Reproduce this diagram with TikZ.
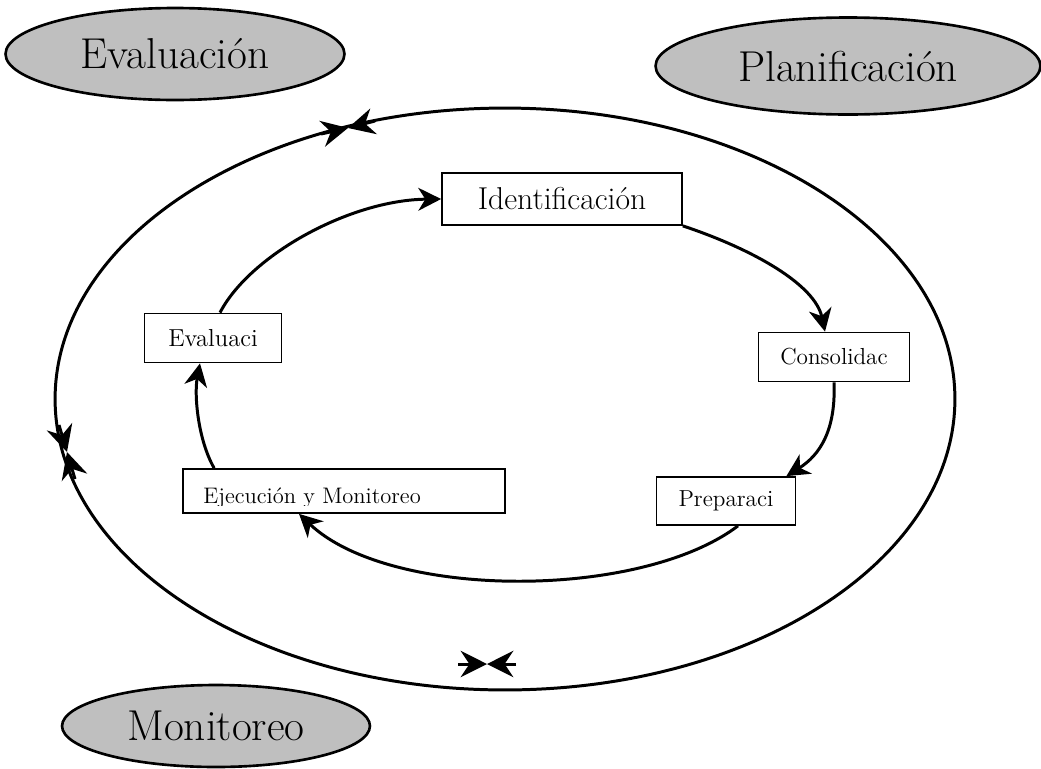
\documentclass[tikz,border=0pt]{standalone}
\usepackage{fontspec}
\usetikzlibrary{shapes.geometric,arrows.meta}

\begin{document}
\begin{tikzpicture}[
        x=0.02cm, y=-0.02cm,
        phase/.style={ellipse,draw,line width=1.5pt,fill=gray!50,font=\fontsize{24.6}{29}\selectfont},
        stage/.style={rectangle,draw,line width=1pt,fill=white,font=\fontsize{13.2}{16}\selectfont,inner sep=2pt},
        flow/.style={-{Stealth[length=13pt,width=13pt,inset=4pt]},line width=1.7pt},
        tick/.style={-{Stealth[length=15pt,width=15pt,inset=5pt]},line width=1.7pt}
    ]
        \useasboundingbox (0,0) rectangle (1041,768);

        % Outer cycle
        \draw[line width=1.7pt] (505,399) ellipse [x radius=9cm, y radius=5.82cm];

        % Define the phase nodes
        \node[phase,minimum width=6.78cm,minimum height=1.84cm] (evaluacion) at (175,54) {Evaluación};
        \node[phase,minimum width=7.7cm,minimum height=1.94cm] (planificacion) at (848,66) {Planificación};
        \node[phase,minimum width=6.16cm,minimum height=1.64cm] (monitoreo) at (216,726) {Monitoreo};

        % Define the stage nodes
        \node[stage,minimum width=4.8cm,minimum height=1.04cm,font=\fontsize{18}{21}\selectfont] (ident) at (562,199) {Identificación};
        \node[stage,minimum width=3.02cm,minimum height=0.98cm] (consol) at (834,357) {Consolidac};
        \node[stage,minimum width=2.78cm,minimum height=0.96cm] (prep) at (726,501) {Preparaci};
        \node[stage,minimum width=6.44cm,minimum height=0.88cm] (ejec) at (344,491) {};
        \node[stage,minimum width=2.74cm,minimum height=0.98cm,font=\fontsize{14}{17}\selectfont] (evalsm) at (213,338) {Evaluaci};
        \begin{scope}
            \clip (ejec.north west) rectangle ([yshift=0.16cm]ejec.south east);
            \node[anchor=base west,inner sep=0pt,font=\fontsize{12.8}{15}\selectfont] (ejectxt) at (203,503) {Ejecución y Monitoreo};
        \end{scope}

        % Draw the inner cycle
        \draw[flow] ([xshift=0.14cm]evalsm.north) .. controls (250,255) and (350,200) .. (ident.west);
        \draw[flow] (ident.south east) .. controls (755,250) and (815,285) .. ([xshift=-0.18cm]consol.north);
        \draw[flow] (consol.south) .. controls (836,430) and (820,455) .. ([xshift=-0.2cm]prep.north east);
        \draw[flow] ([xshift=0.24cm]prep.south) .. controls (640,600) and (390,600) .. ([xshift=-0.9cm]ejec.south);
        \draw[flow] ([xshift=0.64cm]ejec.north west) .. controls (198,440) and (194,395) .. ([xshift=-0.26cm]evalsm.south);

        % Arrow ticks on the outer cycle
        \coordinate (topmid) at (348,128);
        \coordinate (topa) at (321,134);
        \coordinate (topb) at (375,121);
        \coordinate (leftmid) at (67,452);
        \coordinate (lefta) at (59,425);
        \coordinate (leftb) at (75,479);
        \coordinate (botmid) at (487,664);
        \coordinate (bota) at (458,664);
        \coordinate (botb) at (516,664);
        \draw[tick] (topa) -- (topmid);
        \draw[tick] (topb) -- (topmid);
        \draw[tick] (lefta) -- (leftmid);
        \draw[tick] (leftb) -- (leftmid);
        \draw[tick] (bota) -- (botmid);
        \draw[tick] (botb) -- (botmid);
\end{tikzpicture}
\end{document}
